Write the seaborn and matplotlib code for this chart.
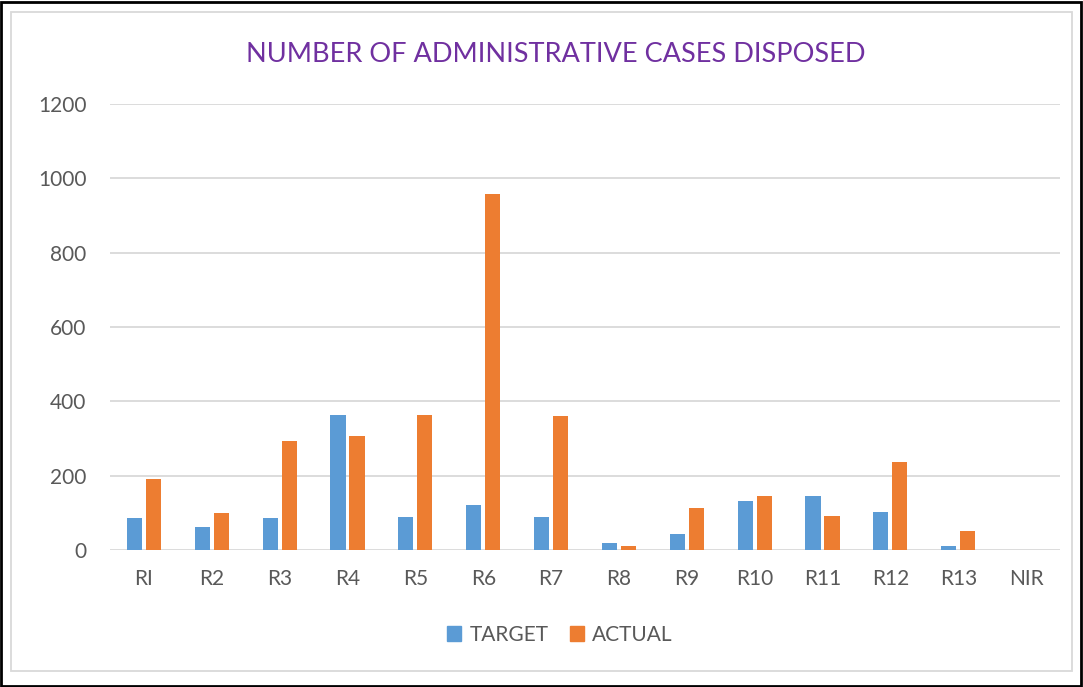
import matplotlib.pyplot as plt
import matplotlib.patches as mpatches
import pandas as pd
import seaborn as sns

# Regions on the x axis
regions = ['RI', 'R2', 'R3', 'R4', 'R5', 'R6', 'R7', 'R8', 'R9', 'R10', 'R11', 'R12', 'R13', 'NIR']

# Values
target = [85, 63, 85, 364, 89, 120, 88, 20, 43, 132, 144, 101, 10, 0]
actual = [190, 100, 292, 308, 364, 958, 360, 12, 113, 144, 91, 238, 51, 0]

series = ['TARGET', 'ACTUAL']
colors = ['#5B9BD5', '#ED7D31']

df = pd.DataFrame({
    'Region': regions * 2,
    'Type': ['TARGET'] * len(regions) + ['ACTUAL'] * len(regions),
    'Cases': target + actual,
})

sns.set_style('white')
plt.rcParams['font.family'] = ['Lato', 'DejaVu Sans']

fig = plt.figure(figsize=(10.83, 6.87), dpi=100)
ax = fig.add_axes([0.1016, 0.1994, 0.8772, 0.6492])

sns.barplot(data=df, x='Region', y='Cases', hue='Type', hue_order=series,
            palette=colors, width=0.56, gap=0.2, ax=ax, legend=False,
            saturation=1, linewidth=0)

ax.set_ylim(0, 1200)
ax.set_yticks(range(0, 1201, 200))
ax.set_xlim(-0.5, len(regions) - 0.5)
ax.yaxis.grid(True, color='#D9D9D9', linewidth=1.3)
ax.set_axisbelow(True)
for s in ax.spines.values():
    s.set_visible(False)
ax.tick_params(axis='both', length=0, labelsize=15, labelcolor='#595959')
ax.tick_params(axis='x', pad=14)
ax.tick_params(axis='y', pad=17)
ax.set_xlabel('')
ax.set_ylabel('')

fig.text(0.513, 0.921, 'NUMBER OF ADMINISTRATIVE CASES DISPOSED', ha='center', va='center',
         fontsize=19.5, color='#7030A0')

handles = [mpatches.Patch(color=c, label=s) for s, c in zip(series, colors)]
fig.legend(handles=handles, loc='center', bbox_to_anchor=(0.517, 0.076), ncol=2,
           frameon=False, fontsize=15, handlelength=0.7, handleheight=0.7,
           handletextpad=0.4, columnspacing=1.0, labelcolor='#595959')

# chart frame: light inner border, black outer border
fig.patches.append(mpatches.Rectangle((11 / 1083, 16 / 687), 1061 / 1083, 659 / 687,
                                      transform=fig.transFigure, fill=False,
                                      edgecolor='#D9D9D9', linewidth=1.3))
fig.patches.append(mpatches.Rectangle((0.001, 0.002), 0.997, 0.995,
                                      transform=fig.transFigure, fill=False,
                                      edgecolor='black', linewidth=2))

fig.savefig('out.png', dpi=100)
